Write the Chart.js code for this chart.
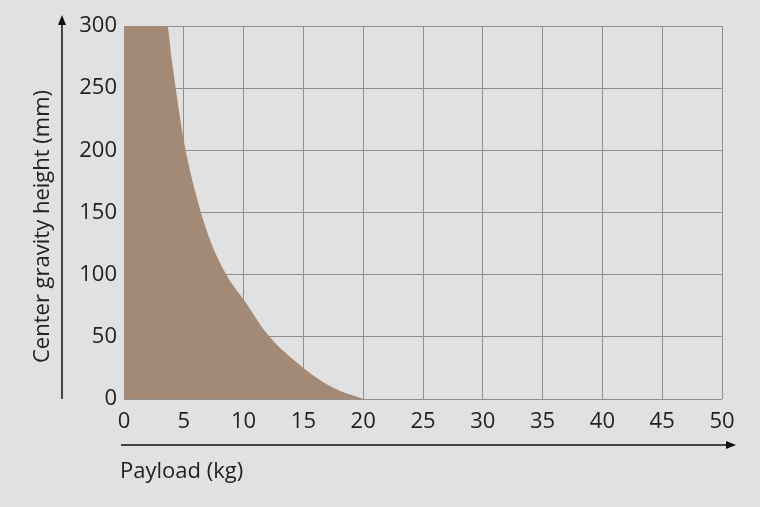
<!DOCTYPE html>
<html>
<head>
<meta charset="utf-8">
<script src="https://cdn.jsdelivr.net/npm/chart.js@4"></script>
<style>
  html, body { margin: 0; padding: 0; background: #e1e1e1; }
  #wrap { width: 760px; height: 507px; }
</style>
</head>
<body>
<div id="wrap"><canvas id="cg"></canvas></div>
<script>
// payload (kg) vs allowed centre of gravity height (mm)
const payload = [0, 3.6, 4, 5, 6, 7, 8, 9, 10, 12, 15, 17.5, 20];
const cgHeight = [300, 300, 272, 208, 165, 133, 110, 93, 80, 52, 25, 9, 0];
const xTitle = 'Payload (kg)';
const yTitle = 'Center gravity height (mm)';

const font = { family: 'Open Sans', size: 22 };

const arrows = {
  id: 'arrows',
  afterDraw(chart) {
    const c = chart.ctx;
    const a = chart.chartArea;
    c.save();
    c.strokeStyle = '#111';
    c.fillStyle = '#111';
    c.lineWidth = 1.5;
    // y arrow
    c.beginPath(); c.moveTo(62, a.bottom); c.lineTo(62, 20); c.stroke();
    c.beginPath(); c.moveTo(62, 15); c.lineTo(58, 25); c.lineTo(66, 25); c.closePath(); c.fill();
    // x arrow
    c.beginPath(); c.moveTo(121, 445); c.lineTo(730, 445); c.stroke();
    c.beginPath(); c.moveTo(736, 445); c.lineTo(726, 441); c.lineTo(726, 449); c.closePath(); c.fill();
    c.font = '22px "Open Sans"';
    c.fillStyle = '#222';
    c.textBaseline = 'middle';
    c.textAlign = 'left';
    c.fillText(xTitle, 120, 472);
    c.translate(43, (a.top + a.bottom) / 2 + 14);
    c.rotate(-Math.PI / 2);
    c.textAlign = 'center';
    c.fillText(yTitle, 0, 0);
    c.restore();
  }
};

new Chart(document.getElementById('cg'), {
  type: 'scatter',
  data: {
    datasets: [{
      data: payload.map((x, i) => ({ x: x, y: cgHeight[i] })),
      showLine: true,
      fill: 'origin',
      backgroundColor: '#a28a76',
      borderWidth: 0,
      pointRadius: 0,
      cubicInterpolationMode: 'monotone'
    }]
  },
  options: {
    responsive: true,
    maintainAspectRatio: false,
    animation: false,
    layout: { padding: { top: 26, right: 38, left: 0, bottom: 0 } },
    plugins: { legend: { display: false }, tooltip: { enabled: false } },
    scales: {
      x: {
        type: 'linear', min: 0, max: 50,
        ticks: { stepSize: 5, font: font, color: '#222', padding: 10 },
        grid: { color: '#8f8f8f', drawTicks: false },
        border: { display: false },
        afterFit(s) { s.height = 108; }
      },
      y: {
        min: 0, max: 300,
        ticks: { stepSize: 50, font: font, color: '#222', padding: 7 },
        grid: { color: '#8f8f8f', drawTicks: false },
        border: { display: false },
        afterFit(s) { s.width = 124; }
      }
    }
  },
  plugins: [arrows]
});
</script>
</body>
</html>
